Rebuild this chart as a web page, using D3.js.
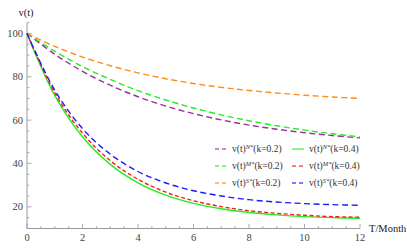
<!DOCTYPE html>
<html><head><meta charset="utf-8">
<script src="https://cdn.jsdelivr.net/npm/d3@7"></script>
<style>body{margin:0;background:#fff}svg{display:block}</style>
</head><body>
<script>
const tValues = [0,1,2,3,4,5,6,7,8,9,10,11,12];
const nStar02 = [100,90.4,82.5,76.1,70.8,66.5,63.0,60.1,57.7,55.8,54.2,52.9,51.8];
const mStar02 = [100,91.8,84.7,78.8,73.6,69.3,65.6,62.4,59.7,57.4,55.4,53.7,52.3];
const sStar02 = [100,94.0,89.1,85.1,81.8,79.1,76.9,75.1,73.7,72.5,71.5,70.7,70.0];
const nStar04 = [100,71.4,52.3,39.6,31.1,25.4,21.6,19.1,17.4,16.3,15.5,15.0,14.7];
const mStar04 = [100,72.6,54.0,41.3,32.7,26.8,22.8,20.1,18.2,17.0,16.1,15.5,15.2];
const sStar04 = [100,73.8,56.1,44.3,36.3,31.0,27.4,25.0,23.3,22.2,21.5,21.0,20.7];
const xTicks = [0,2,4,6,8,10,12];
const yTicks = [20,40,60,80,100];

const series = [
  {sup:"N*", k:"0.2", values:nStar02, color:"#9a309a", dash:"6,3.5"},
  {sup:"M*", k:"0.2", values:mStar02, color:"#22ee22", dash:"6,3.5"},
  {sup:"S*", k:"0.2", values:sStar02, color:"#ff8c1a", dash:"6,3.5"},
  {sup:"N*", k:"0.4", values:nStar04, color:"#22ee22", dash:null},
  {sup:"M*", k:"0.4", values:mStar04, color:"#ff1a1a", dash:"4,2.5"},
  {sup:"S*", k:"0.4", values:sStar04, color:"#1a1aff", dash:"6,3.5"}
];

const W=407,H=248;
const svg=d3.select("body").append("svg").attr("width",W).attr("height",H);
const x=d3.scaleLinear().domain([0,12]).range([27,360]);
const y=d3.scaleLinear().domain([10,105]).range([228.5,22.6]);
const axisColor="#9a9a9a", labelColor="#444";
const font="'Liberation Serif','Times New Roman',serif";

// axes
const gx=svg.append("g").attr("transform",`translate(0,${y(10)})`);
gx.append("line").attr("x1",x(0)).attr("x2",x(12)).attr("stroke",axisColor).attr("stroke-width",1);
gx.selectAll("line.minor").data(d3.range(0.5,12.01,0.5).filter(v=>v%2!==0)).join("line")
  .attr("class","minor").attr("x1",d=>x(d)).attr("x2",d=>x(d)).attr("y1",0).attr("y2",-2.5)
  .attr("stroke",axisColor).attr("stroke-width",0.8);
gx.selectAll("line.major").data(xTicks).join("line")
  .attr("class","major").attr("x1",d=>x(d)).attr("x2",d=>x(d)).attr("y1",0).attr("y2",-4.5)
  .attr("stroke",axisColor).attr("stroke-width",0.8);
gx.selectAll("text").data(xTicks).join("text")
  .attr("x",d=>x(d)).attr("y",12).attr("text-anchor","middle")
  .attr("font-family",font).attr("font-size",10.5).attr("fill",labelColor).text(d=>d);

const gy=svg.append("g").attr("transform",`translate(${x(0)},0)`);
gy.append("line").attr("y1",y(10)).attr("y2",y(105)).attr("stroke",axisColor).attr("stroke-width",1);
gy.selectAll("line.minor").data(d3.range(15,105.1,5).filter(v=>v%20!==0)).join("line")
  .attr("class","minor").attr("y1",d=>y(d)).attr("y2",d=>y(d)).attr("x1",0).attr("x2",2.5)
  .attr("stroke",axisColor).attr("stroke-width",0.8);
gy.selectAll("line.major").data(yTicks).join("line")
  .attr("class","major").attr("y1",d=>y(d)).attr("y2",d=>y(d)).attr("x1",0).attr("x2",4.5)
  .attr("stroke",axisColor).attr("stroke-width",0.8);
gy.selectAll("text").data(yTicks).join("text")
  .attr("x",-4).attr("y",d=>y(d)+3.6).attr("text-anchor","end")
  .attr("font-family",font).attr("font-size",10.5).attr("fill",labelColor).text(d=>d);

svg.append("text").attr("x",26).attr("y",16).attr("text-anchor","middle")
  .attr("font-family",font).attr("font-size",10.5).attr("fill","#222").text("v(t)");
svg.append("text").attr("x",369).attr("y",232).attr("text-anchor","start")
  .attr("font-family",font).attr("font-size",10.5).attr("fill","#222").text("T/Month");

// curves
const line=d3.line().x((d,i)=>x(tValues[i])).y(d=>y(d)).curve(d3.curveCatmullRom);
series.forEach(s=>{
  svg.append("path").attr("d",line(s.values)).attr("fill","none")
    .attr("stroke",s.color).attr("stroke-width",1.4)
    .attr("stroke-dasharray",s.dash);
});

// legend
const legendPos=[[215,149],[215,166],[215,183],[292,149],[292,166],[292,183]];
series.forEach((s,i)=>{
  const [lx,ly]=legendPos[i];
  svg.append("line").attr("x1",lx).attr("x2",lx+12).attr("y1",ly).attr("y2",ly)
    .attr("stroke",s.color).attr("stroke-width",1.4).attr("stroke-dasharray",s.dash? "4,3":null)
    .attr("opacity",0.75);
  const t=svg.append("text").attr("x",lx+17).attr("y",ly+3.2)
    .attr("font-family",font).attr("font-size",9.5).attr("fill","#333");
  t.append("tspan").text("v(t)");
  t.append("tspan").attr("dy",-3.5).attr("font-size",6.5).attr("font-style","italic").text(s.sup);
  t.append("tspan").attr("dy",3.5).text(`(k=${s.k})`);
});
</script>
</body></html>
